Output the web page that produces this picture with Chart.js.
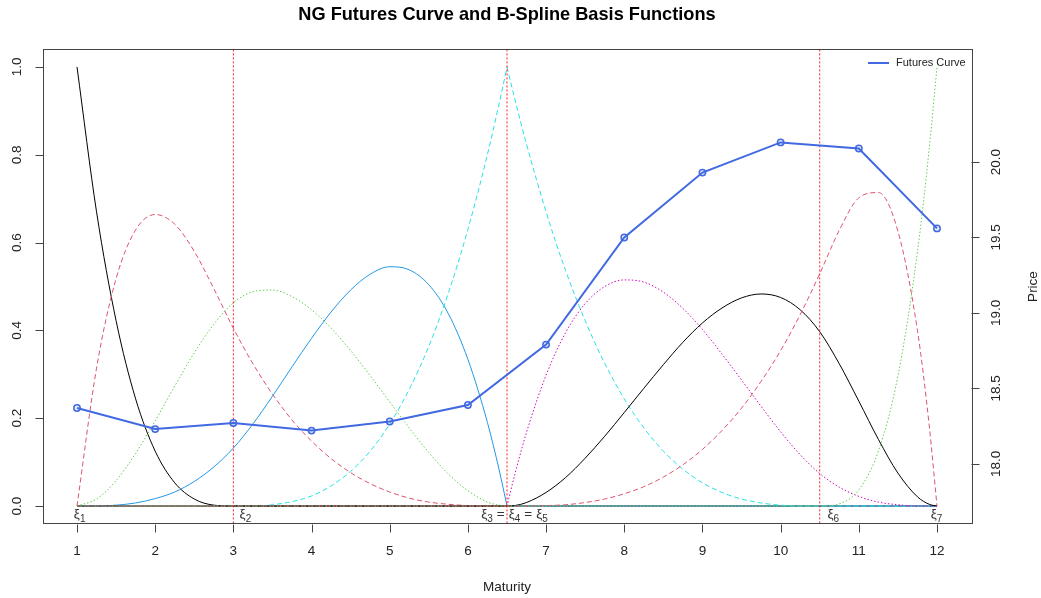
<!DOCTYPE html>
<html><head><meta charset="utf-8">
<script src="https://cdn.jsdelivr.net/npm/chart.js@4/dist/chart.umd.min.js"></script>
<style>html,body{margin:0;padding:0;background:#fff;overflow:hidden}#wrap{width:1041px;height:598px;position:relative}</style>
</head><body><div id="wrap"><canvas id="c" width="1041" height="598"></canvas></div>
<script>
// ---------- data ----------
const maturityGrid = [1,1.25,1.5,1.75,2,2.25,2.5,2.75,3,
  3.25,3.5,3.75,4,4.25,4.5,4.75,5,5.25,5.5,5.75,6,6.25,
  6.4,6.5,6.6,
  6.75,7,7.25,7.5,7.75,8,8.25,8.5,8.75,9,9.25,9.5,9.75,10,10.25,10.5,
  10.75,11,11.25,11.5,11.75,
  11.9,12];
const basis1 = [1,.670,.422,.244,.125,.053,.016,.002,0,
  0,0,0,0,0,0,0,0,0,0,0,0,0,
  0,0,0,
  0,0,0,0,0,0,0,0,0,0,0,0,0,0,0,0,
  0,0,0,0,0,
  0,0];
const basis2 = [0,.314,.518,.629,.664,.642,.580,.495,.405,
  .324,.255,.196,.148,.108,.076,.051,.032,.018,.009,.004,.001,0,
  0,0,0,
  0,0,0,0,0,0,0,0,0,0,0,0,0,0,0,0,
  0,0,0,0,0,
  0,0];
const basis3 = [0,.016,.058,.120,.194,.273,.349,.414,.463,
  .488,.492,.477,.447,.405,.354,.297,.237,.178,.122,.073,.035,.009,
  .002,0,0,
  0,0,0,0,0,0,0,0,0,0,0,0,0,0,0,0,
  0,0,0,0,0,
  0,0];
const basis4 = [0,0,.002,.007,.017,.032,.056,.089,.132,
  .187,.250,.317,.382,.442,.492,.528,.545,.538,.504,.438,.334,.190,
  .082,0,0,
  0,0,0,0,0,0,0,0,0,0,0,0,0,0,0,0,
  0,0,0,0,0,
  0,0];
const basis5 = [0,0,0,0,0,0,0,0,0,
  0,.003,.010,.023,.046,.079,.125,.187,.266,.364,.485,.630,.801,
  .917,1,.927,
  .824,.670,.536,.422,.325,.244,.178,.125,.084,.053,.031,.016,.007,.002,0,0,
  0,0,0,0,0,
  0,0];
const basis6 = [0,0,0,0,0,0,0,0,0,
  0,0,0,0,0,0,0,0,0,0,0,0,0,
  0,0,.072,
  .168,.298,.395,.461,.500,.515,.510,.487,.450,.402,.346,.287,.227,.169,.117,.074,
  .043,.022,.009,.003,0,
  0,0];
const basis7 = [0,0,0,0,0,0,0,0,0,
  0,0,0,0,0,0,0,0,0,0,0,0,0,
  0,0,.001,
  .008,.031,.065,.109,.159,.213,.268,.322,.373,.417,.451,.474,.483,.475,.447,.397,
  .324,.239,.152,.075,.021,
  .004,0];
const basis8 = [0,0,0,0,0,0,0,0,0,
  0,0,0,0,0,0,0,0,0,0,0,0,0,
  0,0,0,
  0,.001,.003,.008,.016,.028,.044,.066,.094,.129,.172,.223,.284,.354,.436,.529,
  .628,.702,.714,.626,.400,
  .184,0];
const basis9 = [0,0,0,0,0,0,0,0,0,
  0,0,0,0,0,0,0,0,0,0,0,0,0,
  0,0,0,
  0,0,0,0,0,0,0,0,0,0,0,0,0,0,0,0,
  .005,.037,.125,.296,.579,
  .813,1];
const futuresMaturity = [1,2,3,4,5,6,7,8,9,10,11,12];
const futuresPrice = [18.37,18.23,18.27,18.22,18.28,18.39,18.79,19.50,19.93,20.13,20.09,19.56];
const knots = [3, 6.5, 10.5];
const knotLabelX = [0.96, 3.08, 6.17, 10.6, 11.92];
const knotLabelSubs = [["1"],["2"],["3","4","5"],["6"],["7"]];
const xTicks = [1,2,3,4,5,6,7,8,9,10,11,12];
const basisTicks = [0,0.2,0.4,0.6,0.8,1.0];
const priceTicks = [18.0,18.5,19.0,19.5,20.0];
const titleText = "NG Futures Curve and B-Spline Basis Functions";
const xTitle = "Maturity";
const y2Title = "Price";
const legendLabel = "Futures Curve";

// ---------- styles ----------
const basisColors = ['#000000','#DF536B','#61D04F','#2297E6','#28E2E5','#CD0BBC','#000000','#DF536B','#61D04F'];
const ltyDash = [[], [5,3], [1.5,2]];
const FONT = '"Liberation Sans", Arial, Helvetica, sans-serif';
const FUT_COLOR = '#4169E1';

const allBasis = [basis1,basis2,basis3,basis4,basis5,basis6,basis7,basis8,basis9];
const splitIdx = maturityGrid.indexOf(6.5);
const datasets = [];
allBasis.forEach((vals, i) => {
  const pts = maturityGrid.map((m, j) => ({x: m, y: vals[j]}));
  [pts.slice(0, splitIdx + 1), pts.slice(splitIdx)].forEach(part => {
    datasets.push({
      data: part, yAxisID: 'y', borderColor: basisColors[i], borderWidth: 1,
      borderDash: ltyDash[i % 3], pointRadius: 0, fill: false,
      cubicInterpolationMode: 'monotone', order: 100 - i
    });
  });
});
datasets.push({
  isFutures: true, label: legendLabel,
  data: futuresMaturity.map((m, j) => ({x: m, y: futuresPrice[j]})),
  yAxisID: 'y2', borderColor: FUT_COLOR, borderWidth: 2, tension: 0,
  pointRadius: 3.2, pointBorderWidth: 1.5, pointBorderColor: FUT_COLOR,
  pointBackgroundColor: 'rgba(65,105,225,0.12)', order: 0
});

function drawKnots(chart) {
  const {ctx, chartArea: a, scales: {x}} = chart;
  ctx.save();
  ctx.strokeStyle = '#FF1A1A'; ctx.lineWidth = 1; ctx.setLineDash([2,2]);
  knots.forEach(k => {
    const px = x.getPixelForValue(k);
    ctx.beginPath(); ctx.moveTo(px, a.top); ctx.lineTo(px, a.bottom); ctx.stroke();
  });
  ctx.restore();
}

const deco = {
  id: 'deco',
  beforeDatasetDraw(chart, args) {
    if (chart.data.datasets[args.index].isFutures) drawKnots(chart);
  },
  afterDraw(chart) {
    const {ctx, chartArea: a, scales: {x, y, y2}} = chart;
    ctx.save();
    ctx.setLineDash([]);
    // box
    ctx.strokeStyle = '#444'; ctx.lineWidth = 1;
    ctx.strokeRect(Math.round(a.left)+0.5, Math.round(a.top)+0.5, Math.round(a.right-a.left), Math.round(a.bottom-a.top));
    const TXT = '#222';
    ctx.fillStyle = TXT; ctx.strokeStyle = '#444';
    ctx.font = '13.5px ' + FONT;
    // x axis ticks
    const bottom = Math.round(a.bottom) + 0.5;
    ctx.beginPath();
    xTicks.forEach(v => { const px = Math.round(x.getPixelForValue(v)) + 0.5; ctx.moveTo(px, bottom); ctx.lineTo(px, bottom + 8); });
    ctx.stroke();
    ctx.textAlign = 'center'; ctx.textBaseline = 'middle';
    xTicks.forEach(v => ctx.fillText(String(v), x.getPixelForValue(v), bottom + 27));
    // left axis
    const left = Math.round(a.left) + 0.5;
    ctx.beginPath();
    basisTicks.forEach(v => { const py = Math.round(y.getPixelForValue(v)) + 0.5; ctx.moveTo(left - 8, py); ctx.lineTo(left, py); });
    ctx.stroke();
    basisTicks.forEach(v => {
      ctx.save(); ctx.translate(17, y.getPixelForValue(v)); ctx.rotate(-Math.PI/2);
      ctx.fillText(v.toFixed(1), 0, 0); ctx.restore();
    });
    // right axis
    const right = Math.round(a.right) + 0.5;
    ctx.beginPath();
    priceTicks.forEach(v => { const py = Math.round(y2.getPixelForValue(v)) + 0.5; ctx.moveTo(right, py); ctx.lineTo(right + 8, py); });
    ctx.stroke();
    priceTicks.forEach(v => {
      ctx.save(); ctx.translate(996, y2.getPixelForValue(v)); ctx.rotate(-Math.PI/2);
      ctx.fillText(v.toFixed(1), 0, 0); ctx.restore();
    });
    // axis titles
    const cx = (a.left + a.right) / 2, cy = (a.top + a.bottom) / 2;
    ctx.fillText(xTitle, cx, 587);
    ctx.save(); ctx.translate(1033, cy); ctx.rotate(-Math.PI/2); ctx.fillText(y2Title, 0, 0); ctx.restore();
    // title
    ctx.font = 'bold 18.2px ' + FONT; ctx.fillStyle = '#000';
    ctx.fillText(titleText, cx, 15);
    // knot labels
    ctx.textAlign = 'left'; ctx.textBaseline = 'alphabetic'; ctx.fillStyle = '#333';
    const baseY = y.getPixelForValue(0) + 12;
    knotLabelX.forEach((lx, i) => {
      let px = x.getPixelForValue(lx);
      knotLabelSubs[i].forEach((s, j) => {
        if (j > 0) {
          ctx.font = '13.5px ' + FONT; px += 4;
          ctx.fillText('=', px, baseY); px += ctx.measureText('=').width + 4;
        }
        ctx.font = '13.5px ' + FONT; ctx.fillText('\u03BE', px, baseY); px += ctx.measureText('\u03BE').width;
        ctx.font = '10px ' + FONT; ctx.fillText(s, px, baseY + 4); px += ctx.measureText(s).width;
      });
    });
    // legend
    const lgY = 63, lgX = 868;
    ctx.strokeStyle = FUT_COLOR; ctx.lineWidth = 2;
    ctx.beginPath(); ctx.moveTo(lgX, lgY); ctx.lineTo(lgX + 21, lgY); ctx.stroke();
    ctx.fillStyle = TXT; ctx.font = '11px ' + FONT; ctx.textBaseline = 'middle';
    ctx.fillText(legendLabel, lgX + 28, lgY);
    ctx.restore();
  }
};

const pLow = Math.min(...futuresPrice) - 0.5, pHigh = Math.max(...futuresPrice) + 0.5;
const pExt = (pHigh - pLow) * 0.04;

new Chart(document.getElementById('c'), {
  type: 'line',
  data: { datasets },
  options: {
    responsive: false, animation: false, devicePixelRatio: 1, events: [],
    layout: { padding: { left: 42.6, right: 69.6, top: 49.4, bottom: 74.4 } },
    plugins: { legend: { display: false }, tooltip: { enabled: false }, title: { display: false } },
    scales: {
      x: { type: 'linear', min: 0.56, max: 12.44, display: false },
      y: { type: 'linear', min: -0.04, max: 1.04, display: false },
      y2: { type: 'linear', position: 'right', min: pLow - pExt, max: pHigh + pExt, display: false }
    }
  },
  plugins: [deco]
});
</script></body></html>
